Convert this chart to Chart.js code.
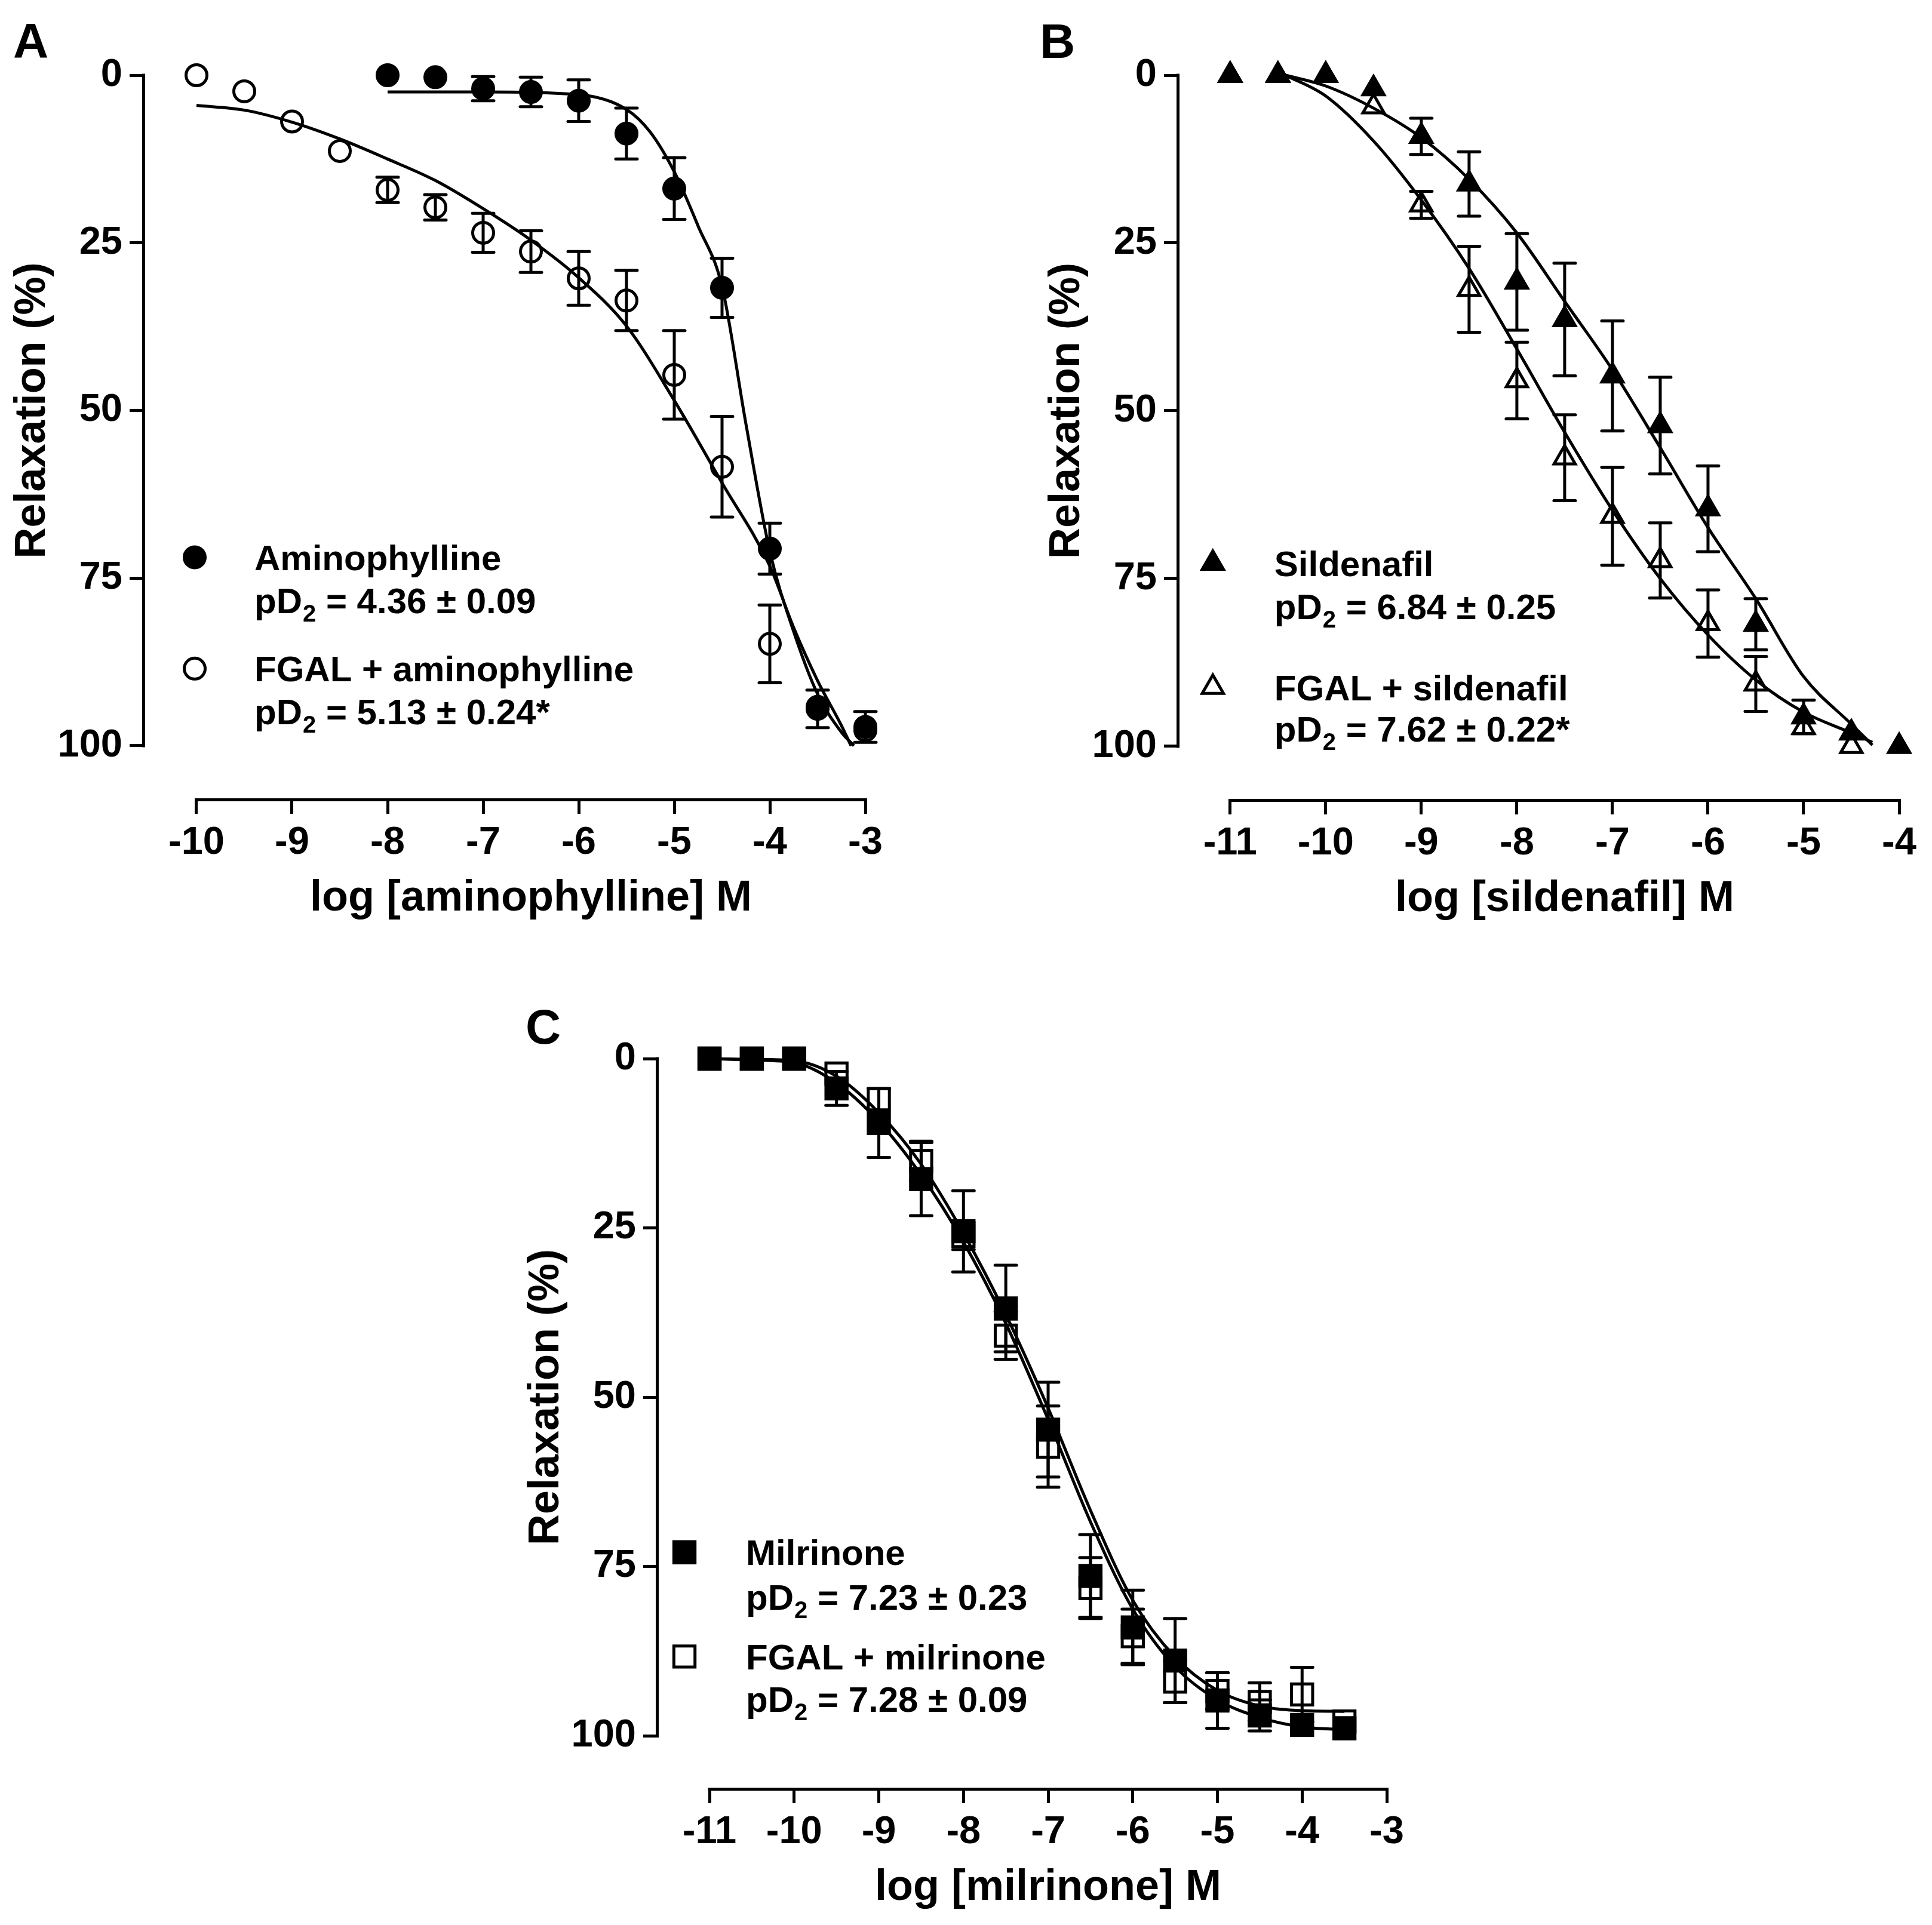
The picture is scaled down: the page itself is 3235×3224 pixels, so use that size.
<!DOCTYPE html>
<html>
<head>
<meta charset="utf-8">
<title>Relaxation curves</title>
<script src="https://cdn.jsdelivr.net/npm/chart.js@4.4.1/dist/chart.umd.min.js"></script>
<style>
    html, body { margin: 0; padding: 0; background: #fff; }
    body { width: 3235px; height: 3224px; position: relative; overflow: hidden; }
    canvas { position: absolute; }
</style>
</head>
<body>
<canvas id="chartA" width="1620" height="1620" style="left:0;top:0;width:1620px;height:1620px"></canvas>
<canvas id="chartB" width="1615" height="1620" style="left:1620px;top:0;width:1615px;height:1620px"></canvas>
<canvas id="chartC" width="1600" height="1574" style="left:850px;top:1650px;width:1600px;height:1574px"></canvas>
<script>
// ---- shared ----
const relaxTicks = [0, 25, 50, 75, 100];

// ---- panel A: aminophylline ----
const ticksA = [-10, -9, -8, -7, -6, -5, -4, -3];
const aminoDose = [-8, -7.5, -7, -6.5, -6, -5.5, -5, -4.5, -4, -3.5, -3];
const aminoMean = [0, 0.3, 2.0, 2.5, 3.8, 8.7, 16.9, 31.7, 70.6, 94.5, 97.2];
const aminoSem = [0, 0, 1.8, 2.2, 3.1, 3.8, 4.6, 4.4, 3.8, 2.8, 2.3];
const fgalAminoDose = [-10, -9.5, -9, -8.5, -8, -7.5, -7, -6.5, -6, -5.5, -5, -4.5, -4, -3.5, -3];
const fgalAminoMean = [0, 2.4, 6.9, 11.3, 17.1, 19.7, 23.5, 26.3, 30.3, 33.6, 44.7, 58.4, 84.8, 94.2, 97.7];
const fgalAminoSem = [0, 0, 0, 0, 1.9, 1.9, 2.9, 3.1, 4.0, 4.5, 6.6, 7.5, 5.8, 0, 0];
const aminoFitX = [-8, -7, -6, -5.5, -5.25, -5, -4.75, -4.5, -4.25, -4, -3.75, -3.5, -3.25, -3.12];
const aminoFitY = [2.5, 2.5, 2.9, 5.1, 8.5, 14.4, 22.5, 31.5, 52, 71, 83, 92.3, 98, 100];
const fgalAminoFitX = [-10, -9.5, -9, -8.5, -8, -7.5, -7, -6.5, -6, -5.5, -5, -4.5, -4, -3.75, -3.5, -3.25, -3.15];
const fgalAminoFitY = [4.5, 5.2, 7.0, 9.5, 12.5, 15.7, 19.9, 24.6, 30.2, 37.4, 48.5, 60.8, 73.2, 82.4, 90.3, 97, 100];
const legendA = ['Aminophylline', 'pD2 = 4.36 ± 0.09', 'FGAL + aminophylline', 'pD2 = 5.13 ± 0.24*'];

// ---- panel B: sildenafil ----
const ticksB = [-11, -10, -9, -8, -7, -6, -5, -4];
const sildDose = [-11, -10.5, -10, -9.5, -9, -8.5, -8, -7.5, -7, -6.5, -6, -5.5, -5, -4.5, -4];
const sildMean = [0, 0, 0, 2.0, 9.1, 16.2, 30.8, 36.4, 44.8, 52.2, 64.6, 81.8, 95.6, 98, 100];
const sildSem = [0, 0, 0, 0, 2.7, 4.8, 7.2, 8.4, 8.2, 7.2, 6.4, 3.8, 2.5, 0, 0];
const fgalSildDose = [-11, -10.5, -10, -9.5, -9, -8.5, -8, -7.5, -7, -6.5, -6, -5.5, -5, -4.5];
const fgalSildMean = [0, 0, 0, 4.7, 19.3, 31.9, 45.5, 57, 65.7, 72.3, 81.7, 90.7, 97.2, 100];
const fgalSildSem = [0, 0, 0, 0, 2.0, 6.4, 5.7, 6.4, 7.3, 5.6, 5.0, 4.1, 0, 0];
const sildFitX = [-10.42, -10, -9.5, -9, -8.5, -8, -7.5, -7, -6.5, -6, -5.5, -5, -4.5, -4.28];
const sildFitY = [0, 1.6, 4.9, 9.3, 15.5, 23.5, 33.7, 43.9, 55.5, 67.4, 78, 89.6, 96.7, 99.8];
const fgalSildFitX = [-10.42, -10, -9.5, -9, -8.5, -8, -7.5, -7, -6.5, -6, -5.5, -5, -4.5, -4.28];
const fgalSildFitY = [0, 3.1, 9.8, 18.6, 28.8, 40.8, 53.2, 64.8, 75, 83.4, 90.1, 94.9, 98.0, 99.4];
const legendB = ['Sildenafil', 'pD2 = 6.84 ± 0.25', 'FGAL + sildenafil', 'pD2 = 7.62 ± 0.22*'];

// ---- panel C: milrinone ----
const ticksC = [-11, -10, -9, -8, -7, -6, -5, -4, -3];
const milDose = [-11, -10.5, -10, -9.5, -9, -8.5, -8, -7.5, -7, -6.5, -6, -5.5, -5, -4.5, -4, -3.5];
const milMean = [0, 0, 0, 4.4, 9.5, 17.8, 25.5, 36.9, 54.8, 76.4, 84, 88.9, 94.8, 97, 98.4, 98.9];
const milSem = [0, 0, 0, 2.5, 5.1, 5.4, 6.0, 6.4, 7.0, 6.1, 5.5, 6.2, 4.1, 2.3, 0, 0];
const fgalMilMean = [0, 0, 0, 2.2, 6.0, 15.1, 26.2, 40.9, 57.3, 78.2, 85.3, 92, 93.4, 95, 93.9, 97.9];
const fgalMilSem = [0, 0, 0, 0, 0, 2.9, 2.0, 3.5, 6.0, 4.5, 4.0, 3.1, 2.7, 2.8, 4.0, 0];
const milFitX = [-11, -10.5, -10, -9.5, -9, -8.5, -8, -7.5, -7, -6.5, -6, -5.5, -5, -4.5, -4, -3.5];
const milFitY = [0, 0.2, 0.6, 3.6, 9.3, 17.2, 27.1, 39.1, 53.3, 68.4, 81.3, 89.8, 94.7, 97.3, 98.7, 99.1];
const fgalMilFitY = [0, 0.1, 0.3, 2.6, 8.0, 15.6, 25.8, 37.8, 51.6, 66.7, 80, 88.4, 93.3, 95.6, 96.3, 96.4];
const legendC = ['Milrinone', 'pD2 = 7.23 ± 0.23', 'FGAL + milrinone', 'pD2 = 7.28 ± 0.09'];

const FONT = '"Liberation Sans", Arial, Helvetica, sans-serif';
const INK = '#000';
const STROKE = 5;

function pts(xs, ys) {
    return xs.map((x, i) => ({ x, y: ys[i] }));
}

const markerStyles = {
    circle: { pointStyle: 'circle', radius: 17.5 },
    triangle: { pointStyle: 'triangle', radius: 20.5 },
    rect: { pointStyle: 'rect', radius: 25 }
};

function pointSet(xs, ys, sem, shape, filled) {
    const m = markerStyles[shape];
    return {
        data: pts(xs, ys),
        sem,
        showLine: false,
        pointStyle: m.pointStyle,
        pointRadius: m.radius,
        pointHoverRadius: m.radius,
        pointBorderWidth: STROKE,
        pointBorderColor: INK,
        pointBackgroundColor: filled ? INK : 'rgba(0,0,0,0)',
        clip: false
    };
}

function fitSet(xs, ys) {
    return {
        data: pts(xs, ys),
        showLine: true,
        pointRadius: 0,
        borderColor: INK,
        borderWidth: STROKE,
        cubicInterpolationMode: 'monotone',
        clip: false
    };
}

// error bars, offset axis lines, axis titles, legend text and panel letter
const prismDecor = {
    id: 'prismDecor',
    afterDatasetsDraw(chart) {
        const { ctx, scales: { x, y } } = chart;
        ctx.save();
        ctx.strokeStyle = INK;
        ctx.lineWidth = STROKE;
        ctx.lineCap = 'round';
        chart.data.datasets.forEach(ds => {
            if (!ds.sem) return;
            ds.data.forEach((p, i) => {
                const e = ds.sem[i];
                if (!e) return;
                const px = x.getPixelForValue(p.x);
                const top = y.getPixelForValue(p.y - e);
                const bot = y.getPixelForValue(p.y + e);
                ctx.beginPath();
                ctx.moveTo(px, top); ctx.lineTo(px, bot);
                ctx.moveTo(px - 18, top); ctx.lineTo(px + 18, top);
                ctx.moveTo(px - 18, bot); ctx.lineTo(px + 18, bot);
                ctx.stroke();
            });
        });
        ctx.restore();
    },
    afterDraw(chart, args, opts) {
        const { ctx, chartArea, scales: { x, y } } = chart;
        const xt = opts.xTicks;
        const x0 = x.getPixelForValue(xt[0]);
        const x1 = x.getPixelForValue(xt[xt.length - 1]);
        const y0 = y.getPixelForValue(relaxTicks[0]);
        const y1 = y.getPixelForValue(relaxTicks[relaxTicks.length - 1]);
        const axisY = chartArea.bottom + 2.5;
        const axisX = chartArea.left - 2.5;

        ctx.save();
        ctx.strokeStyle = INK;
        ctx.lineWidth = 5;
        ctx.beginPath();
        ctx.moveTo(x0 - 2.5, axisY); ctx.lineTo(x1 + 2.5, axisY);
        ctx.moveTo(axisX, y0 - 2.5); ctx.lineTo(axisX, y1 + 2.5);
        ctx.stroke();

        ctx.fillStyle = INK;
        ctx.font = `bold 72px ${FONT}`;
        ctx.textAlign = 'center';
        ctx.textBaseline = 'alphabetic';
        ctx.fillText(opts.xTitle, (x0 + x1) / 2, axisY + 185);

        ctx.save();
        ctx.translate(chartArea.left - 168, (y0 + y1) / 2);
        ctx.rotate(-Math.PI / 2);
        ctx.fillText('Relaxation (%)', 0, 0);
        ctx.restore();

        // panel letter
        ctx.font = `bold 82px ${FONT}`;
        ctx.textAlign = 'left';
        ctx.fillText(opts.letter, opts.letterX, opts.letterY);

        // legend
        const lg = opts.legend;
        const size = 60;
        const mx = x0 + lg.markerDx;
        const tx = x0 + lg.textDx;
        lg.rows.forEach((row, i) => {
            const cy = y.getPixelForValue(row);
            const text = lg.labels[i];
            if (i % 2 === 0) {
                const m = markerStyles[lg.shape];
                ctx.fillStyle = lg.filled[i / 2] ? INK : 'rgba(0,0,0,0)';
                ctx.strokeStyle = INK;
                ctx.lineWidth = STROKE;
                Chart.helpers.drawPoint(ctx, { pointStyle: m.pointStyle, radius: m.radius, borderWidth: STROKE, rotation: 0 }, mx, cy);
            }
            ctx.fillStyle = INK;
            const base = cy + size * 0.358;
            if (text.startsWith('pD2')) {
                ctx.font = `bold ${size}px ${FONT}`;
                ctx.fillText('pD', tx, base);
                let cx = tx + ctx.measureText('pD').width;
                ctx.font = `bold 40px ${FONT}`;
                ctx.fillText('2', cx + 1, base + 14);
                cx += ctx.measureText('2').width + 1;
                ctx.font = `bold ${size}px ${FONT}`;
                ctx.fillText(text.slice(3), cx, base);
            } else {
                ctx.font = `bold ${size}px ${FONT}`;
                ctx.fillText(text, tx, base);
            }
        });
        ctx.restore();
    }
};

function makeChart(id, panel) {
    const canvas = document.getElementById(id);
    const W = canvas.width, H = canvas.height;
    const a = panel.area;
    const tickGrid = { display: true, drawOnChartArea: false, drawTicks: true, tickLength: 26, lineWidth: 5, color: INK };
    const tickFont = { family: FONT, size: 65, weight: 'bold' };
    return new Chart(canvas, {
        type: 'scatter',
        data: { datasets: panel.datasets },
        options: {
            responsive: false,
            animation: false,
            devicePixelRatio: 1,
            layout: { padding: { left: 0, top: a.top, right: W - a.right, bottom: 0 } },
            plugins: {
                legend: { display: false },
                tooltip: { enabled: false },
                prismDecor: {
                    xTicks: panel.xTicks,
                    xTitle: panel.xTitle,
                    letter: panel.letter,
                    letterX: panel.letterX,
                    letterY: panel.letterY,
                    legend: panel.legend
                }
            },
            scales: {
                x: {
                    type: 'linear',
                    min: panel.xMin,
                    max: panel.xMax,
                    afterBuildTicks: s => { s.ticks = panel.xTicks.map(v => ({ value: v })); },
                    afterFit: s => { s.height = H - a.bottom; },
                    grid: tickGrid,
                    border: { display: false },
                    ticks: { color: INK, font: tickFont, padding: 10, maxRotation: 0, autoSkip: false, callback: v => String(v) }
                },
                y: {
                    type: 'linear',
                    reverse: true,
                    min: 0,
                    max: panel.yMax,
                    afterBuildTicks: s => { s.ticks = relaxTicks.map(v => ({ value: v })); },
                    afterFit: s => { s.width = a.left; },
                    grid: tickGrid,
                    border: { display: false },
                    ticks: { color: INK, font: tickFont, padding: 12, autoSkip: false, callback: v => String(v) }
                }
            }
        },
        plugins: [prismDecor]
    });
}

makeChart('chartA', {
    area: { left: 243, right: 1449, top: 126, bottom: 1337 },
    xMin: -10.5375, xMax: -3, yMax: 107.84,
    xTicks: ticksA,
    xTitle: 'log [aminophylline] M',
    letter: 'A', letterX: 22, letterY: 96,
    legend: { labels: legendA, shape: 'circle', filled: [true, false], markerDx: -3, textDx: 97, rows: [71.9, 78.3, 88.5, 94.9] },
    datasets: [
        pointSet(aminoDose, aminoMean, aminoSem, 'circle', true),
        pointSet(fgalAminoDose, fgalAminoMean, fgalAminoSem, 'circle', false),
        fitSet(aminoFitX, aminoFitY),
        fitSet(fgalAminoFitX, fgalAminoFitY)
    ]
});

makeChart('chartB', {
    area: { left: 355, right: 1560, top: 126, bottom: 1338 },
    xMin: -11.53, xMax: -4, yMax: 107.83,
    xTicks: ticksB,
    xTitle: 'log [sildenafil] M',
    letter: 'B', letterX: 121, letterY: 97,
    legend: { labels: legendB, shape: 'triangle', filled: [true, false], markerDx: -29, textDx: 74, rows: [72.7, 79.1, 91.2, 97.4] },
    datasets: [
        pointSet(sildDose, sildMean, sildSem, 'triangle', true),
        pointSet(fgalSildDose, fgalSildMean, fgalSildSem, 'triangle', false),
        fitSet(sildFitX, sildFitY),
        fitSet(fgalSildFitX, fgalSildFitY)
    ]
});

makeChart('chartC', {
    area: { left: 253, right: 1472, top: 123, bottom: 1344 },
    xMin: -11.6, xMax: -3, yMax: 107.67,
    xTicks: ticksC,
    xTitle: 'log [milrinone] M',
    letter: 'C', letterX: 30, letterY: 98,
    legend: { labels: legendC, shape: 'rect', filled: [true, false], markerDx: -42, textDx: 61, rows: [72.9, 79.5, 88.3, 94.6] },
    datasets: [
        pointSet(milDose, milMean, milSem, 'rect', true),
        pointSet(milDose, fgalMilMean, fgalMilSem, 'rect', false),
        fitSet(milFitX, milFitY),
        fitSet(milFitX, fgalMilFitY)
    ]
});
</script>
</body>
</html>
